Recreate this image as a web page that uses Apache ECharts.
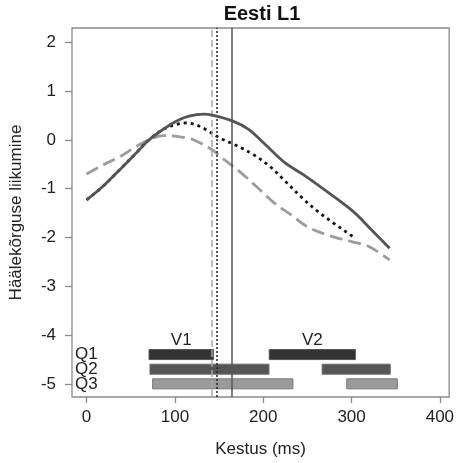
<!DOCTYPE html>
<html>
<head>
<meta charset="utf-8">
<script src="https://cdn.jsdelivr.net/npm/echarts@6/dist/echarts.min.js"></script>
<style>html,body{margin:0;padding:0;background:#fff}#c{width:457px;height:463px}</style>
</head>
<body>
<div id="c"></div>
<script>
// ---- data ----
var xTicks = [0, 100, 200, 300, 400];
var yTicks = [-5, -4, -3, -2, -1, 0, 1, 2];

var solidX = [0, 18, 37, 55, 70, 87, 102, 116, 133, 142, 165, 183, 202, 224, 247, 273, 302, 323, 343];
var solidY = [-1.23, -0.96, -0.62, -0.29, -0.01, 0.22, 0.39, 0.49, 0.53, 0.51, 0.39, 0.22, -0.09, -0.46, -0.73, -1.07, -1.47, -1.85, -2.22];

var dottedX = [0, 18, 37, 55, 70, 87, 102, 113, 128, 139, 152, 169, 187, 206, 224, 243, 262, 280, 299, 304];
var dottedY = [-1.23, -0.96, -0.62, -0.29, -0.01, 0.22, 0.32, 0.35, 0.28, 0.17, 0.03, -0.11, -0.28, -0.52, -0.83, -1.17, -1.47, -1.71, -1.95, -2.01];

var dashedX = [0, 18, 37, 55, 70, 87, 100, 116, 124, 141, 157, 176, 195, 213, 232, 250, 273, 299, 319, 343];
var dashedY = [-0.70, -0.52, -0.35, -0.15, 0.0, 0.09, 0.08, 0.03, -0.02, -0.19, -0.42, -0.69, -1.0, -1.30, -1.54, -1.78, -1.95, -2.08, -2.18, -2.46];

// vertical reference lines (ms)
var vSolid = 164.8;
var vDotted = 147;
var vDashed = 141.7;

// interval bars: [start, end] per row
var rowNames = ['Q1', 'Q2', 'Q3'];
var rowLevels = [-4.4, -4.7, -5.0];
var q1Bars = [[70.7, 143.6], [206.8, 304.3]];
var q2Bars = [[71.8, 206.5], [266.7, 343.8]];
var q3Bars = [[74.8, 233.6], [294.6, 351.9]];
var phaseNames = ['V1', 'V2'];
var phaseLevel = -4.1;
var rowLabelX = -13;

// ---- build ----
function pairs(xs, ys) { return xs.map(function (x, i) { return [x, ys[i]]; }); }
var rowBars = [q1Bars, q2Bars, q3Bars];
var rowFill = ['#333333', '#555555', '#9a9a9a'];
var rowStroke = ['#555555', '#6a6a6a', '#7a7a7a'];
var barData = [];
rowBars.forEach(function (bars, r) {
  bars.forEach(function (b) { barData.push([b[0], b[1], rowLevels[r], r]); });
});
var textData = [];
rowNames.forEach(function (n, r) { textData.push([rowLabelX, rowLevels[r], n, 'left']); });
phaseNames.forEach(function (n, i) {
  var b = q1Bars[i];
  textData.push([(b[0] + b[1]) / 2, phaseLevel, n, 'center']);
});

var FONT = 'Liberation Sans, Arial, sans-serif';
var chart = echarts.init(document.getElementById('c'), null, { renderer: 'canvas' });
chart.setOption({
  animation: false,
  backgroundColor: '#ffffff',
  graphic: [{
    type: 'text', x: 262, y: 14,
    style: { text: 'Eesti L1', textAlign: 'center', textVerticalAlign: 'middle',
             font: 'bold 20px ' + FONT, fill: '#111' }
  }],
  grid: { left: 69, right: 5, top: 28, bottom: 63, show: true,
          borderColor: '#8a8a8a', borderWidth: 1.3 },
  xAxis: {
    type: 'value', min: -16.5, max: 410.5,
    axisLine: { show: false, onZero: false }, splitLine: { show: false },
    axisTick: { show: true, length: 6, customValues: xTicks, lineStyle: { color: '#8a8a8a', width: 1.3 } },
    axisLabel: { customValues: xTicks, fontSize: 17, fontFamily: FONT, color: '#222', margin: 12 },
    name: 'Kestus (ms)', nameLocation: 'middle', nameGap: 44,
    nameTextStyle: { fontSize: 17, fontFamily: FONT, color: '#222' }
  },
  yAxis: {
    type: 'value', min: -5.27, max: 2.295,
    axisLine: { show: false, onZero: false }, splitLine: { show: false },
    axisTick: { show: true, length: 7, customValues: yTicks, lineStyle: { color: '#8a8a8a', width: 1.3 } },
    axisLabel: { customValues: yTicks, fontSize: 17, fontFamily: FONT, color: '#222', margin: 16 },
    name: 'Häälekõrguse liikumine', nameLocation: 'middle', nameGap: 47, nameRotate: 90,
    nameTextStyle: { fontSize: 17, fontFamily: FONT, color: '#222' }
  },
  series: [
    {
      type: 'line', data: pairs(dashedX, dashedY), smooth: 0.35, showSymbol: false,
      lineStyle: { color: '#9c9c9c', width: 2.8, type: [13, 6] }, z: 3,
      markLine: { silent: true, symbol: 'none', label: { show: false },
        lineStyle: { color: '#a8a8a8', width: 1.5, type: [7, 3] },
        data: [{ xAxis: vDashed }] }
    },
    {
      type: 'line', data: pairs(dottedX, dottedY), smooth: 0.35, showSymbol: false,
      lineStyle: { color: '#151515', width: 2.8, type: [3, 4] }, z: 4,
      markLine: { silent: true, symbol: 'none', label: { show: false },
        lineStyle: { color: '#222', width: 1.5, type: [2, 2] },
        data: [{ xAxis: vDotted }] }
    },
    {
      type: 'line', data: pairs(solidX, solidY), smooth: 0.35, showSymbol: false,
      lineStyle: { color: '#555555', width: 2.8, type: 'solid' }, z: 5,
      markLine: { silent: true, symbol: 'none', label: { show: false },
        lineStyle: { color: '#555', width: 1.5, type: 'solid' },
        data: [{ xAxis: vSolid }] }
    },
    {
      type: 'custom', data: barData, z: 2,
      renderItem: function (params, api) {
        var a = api.coord([api.value(0), api.value(2)]);
        var b = api.coord([api.value(1), api.value(2)]);
        var r = api.value(3);
        return { type: 'rect', shape: { x: a[0], y: a[1] - 5, width: b[0] - a[0], height: 10 },
                 style: { fill: rowFill[r], stroke: rowStroke[r], lineWidth: 1 } };
      }
    },
    {
      type: 'custom', data: textData, z: 6,
      renderItem: function (params, api) {
        var d = textData[params.dataIndex];
        var p = api.coord([d[0], d[1]]);
        return { type: 'text', x: p[0], y: p[1],
                 style: { text: d[2], textAlign: d[3], textVerticalAlign: 'middle',
                          font: '17px ' + FONT, fill: '#222' } };
      }
    }
  ]
});
</script>
</body>
</html>
